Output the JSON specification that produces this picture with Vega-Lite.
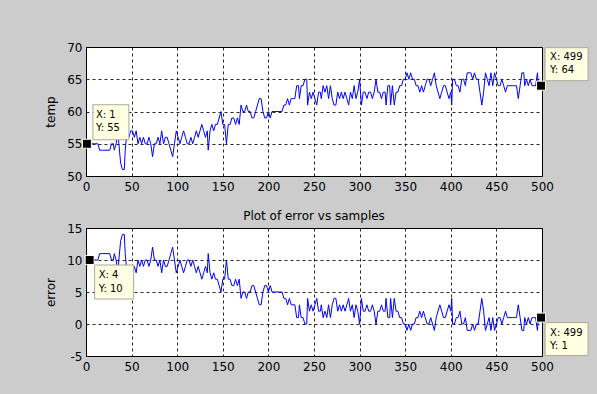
{
  "$schema": "https://vega.github.io/schema/vega-lite/v6.json",
  "background": "#cccccc",
  "padding": {"left": 44, "top": 40, "right": 6, "bottom": 28},
  "spacing": 16,
  "datasets": {
    "series": [
      {"s":1,"t":55,"e":10},{"s":5,"t":55,"e":10},{"s":9,"t":55,"e":10},{"s":13,"t":55,"e":10},{"s":15,"t":54,"e":11},{"s":18,"t":54,"e":11},{"s":22,"t":54,"e":11},{"s":26,"t":54,"e":11},{"s":28,"t":55,"e":10},{"s":30,"t":55,"e":10},{"s":31,"t":54,"e":11},{"s":33,"t":55,"e":10},{"s":35,"t":57,"e":8},{"s":36,"t":55,"e":10},{"s":38,"t":52,"e":13},{"s":40,"t":51,"e":14},{"s":42,"t":51,"e":14},{"s":43,"t":54,"e":11},{"s":45,"t":57,"e":8},{"s":47,"t":56,"e":9},{"s":49,"t":57,"e":8},{"s":51,"t":57,"e":8},{"s":53,"t":56,"e":9},{"s":55,"t":57,"e":8},{"s":57,"t":55,"e":10},{"s":59,"t":56,"e":9},{"s":61,"t":55,"e":10},{"s":63,"t":56,"e":9},{"s":65,"t":55,"e":10},{"s":67,"t":55,"e":10},{"s":69,"t":56,"e":9},{"s":71,"t":55,"e":10},{"s":73,"t":53,"e":12},{"s":75,"t":55,"e":10},{"s":77,"t":55,"e":10},{"s":79,"t":56,"e":9},{"s":81,"t":55,"e":10},{"s":83,"t":57,"e":8},{"s":85,"t":55,"e":10},{"s":87,"t":56,"e":9},{"s":89,"t":56,"e":9},{"s":91,"t":55,"e":10},{"s":93,"t":54,"e":11},{"s":95,"t":53,"e":12},{"s":97,"t":55,"e":10},{"s":99,"t":57,"e":8},{"s":101,"t":56,"e":9},{"s":103,"t":55,"e":10},{"s":105,"t":56,"e":9},{"s":107,"t":57,"e":8},{"s":109,"t":56,"e":9},{"s":111,"t":55,"e":10},{"s":113,"t":55,"e":10},{"s":115,"t":56,"e":9},{"s":117,"t":55,"e":10},{"s":119,"t":56,"e":9},{"s":121,"t":57,"e":8},{"s":123,"t":56,"e":9},{"s":125,"t":57,"e":8},{"s":127,"t":58,"e":7},{"s":129,"t":57,"e":8},{"s":131,"t":56,"e":9},{"s":133,"t":57,"e":8},{"s":134,"t":54,"e":11},{"s":136,"t":57,"e":8},{"s":138,"t":58,"e":7},{"s":140,"t":57,"e":8},{"s":142,"t":58,"e":7},{"s":144,"t":58,"e":7},{"s":146,"t":59,"e":6},{"s":148,"t":60,"e":5},{"s":150,"t":58,"e":7},{"s":152,"t":58,"e":7},{"s":154,"t":55,"e":10},{"s":156,"t":58,"e":7},{"s":158,"t":58,"e":7},{"s":160,"t":59,"e":6},{"s":162,"t":59,"e":6},{"s":164,"t":58,"e":7},{"s":166,"t":59,"e":6},{"s":168,"t":58,"e":7},{"s":170,"t":61,"e":4},{"s":172,"t":60,"e":5},{"s":174,"t":60,"e":5},{"s":176,"t":61,"e":4},{"s":178,"t":60,"e":5},{"s":180,"t":60,"e":5},{"s":182,"t":59,"e":6},{"s":184,"t":59,"e":6},{"s":186,"t":60,"e":5},{"s":188,"t":61,"e":4},{"s":190,"t":62,"e":3},{"s":192,"t":62,"e":3},{"s":194,"t":60,"e":5},{"s":196,"t":59,"e":6},{"s":198,"t":59,"e":6},{"s":200,"t":60,"e":5},{"s":202,"t":59,"e":6},{"s":204,"t":60,"e":5},{"s":208,"t":60,"e":5},{"s":212,"t":60,"e":5},{"s":215,"t":60,"e":5},{"s":217,"t":61,"e":4},{"s":219,"t":61,"e":4},{"s":221,"t":62,"e":3},{"s":223,"t":61,"e":4},{"s":225,"t":62,"e":3},{"s":227,"t":62,"e":3},{"s":229,"t":62,"e":3},{"s":231,"t":64,"e":1},{"s":233,"t":64,"e":1},{"s":234,"t":62,"e":3},{"s":236,"t":64,"e":1},{"s":238,"t":64,"e":1},{"s":240,"t":65,"e":0},{"s":242,"t":65,"e":0},{"s":243,"t":61,"e":4},{"s":245,"t":63,"e":2},{"s":247,"t":62,"e":3},{"s":249,"t":63,"e":2},{"s":251,"t":62,"e":3},{"s":253,"t":61,"e":4},{"s":255,"t":63,"e":2},{"s":257,"t":63,"e":2},{"s":258,"t":62,"e":3},{"s":260,"t":64,"e":1},{"s":262,"t":63,"e":2},{"s":264,"t":64,"e":1},{"s":266,"t":62,"e":3},{"s":268,"t":64,"e":1},{"s":270,"t":62,"e":3},{"s":272,"t":61,"e":4},{"s":274,"t":61,"e":4},{"s":276,"t":63,"e":2},{"s":278,"t":62,"e":3},{"s":280,"t":63,"e":2},{"s":282,"t":62,"e":3},{"s":284,"t":63,"e":2},{"s":286,"t":62,"e":3},{"s":288,"t":61,"e":4},{"s":290,"t":63,"e":2},{"s":292,"t":62,"e":3},{"s":294,"t":64,"e":1},{"s":296,"t":62,"e":3},{"s":298,"t":63,"e":2},{"s":300,"t":65,"e":0},{"s":302,"t":61,"e":4},{"s":304,"t":63,"e":2},{"s":306,"t":63,"e":2},{"s":308,"t":62,"e":3},{"s":310,"t":63,"e":2},{"s":312,"t":63,"e":2},{"s":314,"t":62,"e":3},{"s":316,"t":63,"e":2},{"s":318,"t":65,"e":0},{"s":320,"t":63,"e":2},{"s":322,"t":63,"e":2},{"s":324,"t":62,"e":3},{"s":326,"t":63,"e":2},{"s":328,"t":63,"e":2},{"s":329,"t":61,"e":4},{"s":331,"t":64,"e":1},{"s":333,"t":64,"e":1},{"s":334,"t":61,"e":4},{"s":336,"t":64,"e":1},{"s":338,"t":61,"e":4},{"s":340,"t":63,"e":2},{"s":342,"t":63,"e":2},{"s":344,"t":64,"e":1},{"s":346,"t":64,"e":1},{"s":348,"t":65,"e":0},{"s":350,"t":65,"e":0},{"s":352,"t":66,"e":-1},{"s":354,"t":65,"e":0},{"s":356,"t":66,"e":-1},{"s":358,"t":65,"e":0},{"s":360,"t":65,"e":0},{"s":362,"t":64,"e":1},{"s":364,"t":64,"e":1},{"s":366,"t":63,"e":2},{"s":368,"t":64,"e":1},{"s":370,"t":63,"e":2},{"s":372,"t":64,"e":1},{"s":374,"t":65,"e":0},{"s":376,"t":65,"e":0},{"s":378,"t":64,"e":1},{"s":380,"t":65,"e":0},{"s":382,"t":66,"e":-1},{"s":384,"t":64,"e":1},{"s":386,"t":63,"e":2},{"s":388,"t":62,"e":3},{"s":390,"t":63,"e":2},{"s":392,"t":64,"e":1},{"s":394,"t":64,"e":1},{"s":396,"t":63,"e":2},{"s":398,"t":62,"e":3},{"s":400,"t":63,"e":2},{"s":401,"t":61,"e":4},{"s":402,"t":65,"e":0},{"s":404,"t":65,"e":0},{"s":406,"t":64,"e":1},{"s":408,"t":64,"e":1},{"s":410,"t":63,"e":2},{"s":412,"t":65,"e":0},{"s":414,"t":65,"e":0},{"s":416,"t":64,"e":1},{"s":418,"t":66,"e":-1},{"s":420,"t":66,"e":-1},{"s":422,"t":66,"e":-1},{"s":424,"t":65,"e":0},{"s":426,"t":66,"e":-1},{"s":428,"t":65,"e":0},{"s":430,"t":65,"e":0},{"s":432,"t":63,"e":2},{"s":434,"t":61,"e":4},{"s":436,"t":63,"e":2},{"s":438,"t":66,"e":-1},{"s":440,"t":65,"e":0},{"s":442,"t":64,"e":1},{"s":444,"t":66,"e":-1},{"s":446,"t":64,"e":1},{"s":448,"t":66,"e":-1},{"s":450,"t":65,"e":0},{"s":452,"t":64,"e":1},{"s":454,"t":64,"e":1},{"s":456,"t":65,"e":0},{"s":458,"t":64,"e":1},{"s":460,"t":63,"e":2},{"s":462,"t":64,"e":1},{"s":464,"t":64,"e":1},{"s":466,"t":64,"e":1},{"s":468,"t":64,"e":1},{"s":470,"t":64,"e":1},{"s":472,"t":64,"e":1},{"s":474,"t":62,"e":3},{"s":476,"t":64,"e":1},{"s":478,"t":66,"e":-1},{"s":480,"t":66,"e":-1},{"s":481,"t":64,"e":1},{"s":483,"t":65,"e":0},{"s":485,"t":64,"e":1},{"s":487,"t":65,"e":0},{"s":489,"t":64,"e":1},{"s":491,"t":64,"e":1},{"s":493,"t":64,"e":1},{"s":495,"t":66,"e":-1},{"s":496,"t":64,"e":1},{"s":499,"t":64,"e":1}
    ],
    "tipsTemp": [
      {"s": 1, "t": 55, "label": "X: 1\nY: 55"},
      {"s": 499, "t": 64, "label": "X: 499\nY: 64"}
    ],
    "tipsError": [
      {"s": 4, "e": 10, "label": "X: 4\nY: 10"},
      {"s": 499, "e": 1, "label": "X: 499\nY: 1"}
    ]
  },
  "vconcat": [
    {
      "width": 456,
      "height": 129,
      "encoding": {
        "x": {"field": "s", "type": "quantitative", "scale": {"domain": [0, 500], "nice": false, "zero": false}, "axis": {"values": [0,50,100,150,200,250,300,350,400,450,500], "title": null}},
        "y": {"field": "t", "type": "quantitative", "scale": {"domain": [50, 70], "nice": false, "zero": false}, "axis": {"values": [50,55,60,65,70], "title": "temp", "labelExpr": "'' + datum.value"}}
      },
      "layer": [
        {
          "data": {"name": "series"},
          "mark": {"type": "line", "color": "#0000ff", "strokeWidth": 1}
        },
        {
          "data": {"name": "tipsTemp"},
          "mark": {"type": "point", "filled": true, "fill": "#ffffe1", "stroke": "#a8a89a", "strokeWidth": 1, "opacity": 1, "size": 4},
          "encoding": {
            "shape": {"condition": {"test": "datum.s > 250", "value": "M4,-38H47V-5H4Z"}, "value": "M6,-39H42V-4H6Z"}
          }
        },
        {
          "data": {"name": "tipsTemp"},
          "mark": {"type": "point", "shape": "square", "filled": true, "fill": "#000000", "stroke": "#ffffe1", "strokeWidth": 1, "opacity": 1, "size": 81}
        },
        {
          "data": {"name": "tipsTemp"},
          "mark": {"type": "text", "align": "left", "baseline": "top", "dx": 9, "dy": -34, "lineBreak": "\n", "lineHeight": 13.5, "font": "DejaVu Sans", "fontSize": 10, "color": "#000000"},
          "encoding": {"text": {"field": "label"}}
        }
      ]
    },
    {
      "width": 456,
      "height": 128,
      "title": {"text": "Plot of error vs samples", "font": "DejaVu Sans", "fontSize": 12, "fontWeight": "normal", "color": "#000000", "frame": "group", "offset": -1},
      "encoding": {
        "x": {"field": "s", "type": "quantitative", "scale": {"domain": [0, 500], "nice": false, "zero": false}, "axis": {"values": [0,50,100,150,200,250,300,350,400,450,500], "title": null}},
        "y": {"field": "e", "type": "quantitative", "scale": {"domain": [-5, 15], "nice": false, "zero": false}, "axis": {"values": [-5,0,5,10,15], "title": "error", "labelExpr": "'' + datum.value"}}
      },
      "layer": [
        {
          "data": {"name": "series"},
          "mark": {"type": "line", "color": "#0000ff", "strokeWidth": 1}
        },
        {
          "data": {"name": "tipsError"},
          "mark": {"type": "point", "filled": true, "fill": "#ffffe1", "stroke": "#a8a89a", "strokeWidth": 1, "opacity": 1, "size": 4},
          "encoding": {
            "shape": {"condition": {"test": "datum.s > 250", "value": "M4,5H47V38H4Z"}, "value": "M5,5H44V39H5Z"}
          }
        },
        {
          "data": {"name": "tipsError"},
          "mark": {"type": "point", "shape": "square", "filled": true, "fill": "#000000", "stroke": "#ffffe1", "strokeWidth": 1, "opacity": 1, "size": 81}
        },
        {
          "data": {"name": "tipsError"},
          "mark": {"type": "text", "align": "left", "baseline": "top", "dx": 9, "dy": 10, "lineBreak": "\n", "lineHeight": 13.5, "font": "DejaVu Sans", "fontSize": 10, "color": "#000000"},
          "encoding": {"text": {"field": "label"}}
        }
      ]
    }
  ],
  "config": {
    "view": {"stroke": "#000000", "strokeWidth": 1, "fill": "#ffffff"},
    "axis": {
      "labelFont": "DejaVu Sans", "labelFontSize": 12, "labelColor": "#000000",
      "titleFont": "DejaVu Sans", "titleFontSize": 12, "titleFontWeight": "normal", "titleColor": "#000000",
      "gridColor": "#000000", "gridDash": [3, 3], "gridOpacity": 0.85, "gridWidth": 1,
      "domain": false, "ticks": false, "labelPadding": 5, "labelFlush": false, "labelOverlap": false
    },
    "axisY": {"labelPadding": 4, "titlePadding": 9}
  }
}
